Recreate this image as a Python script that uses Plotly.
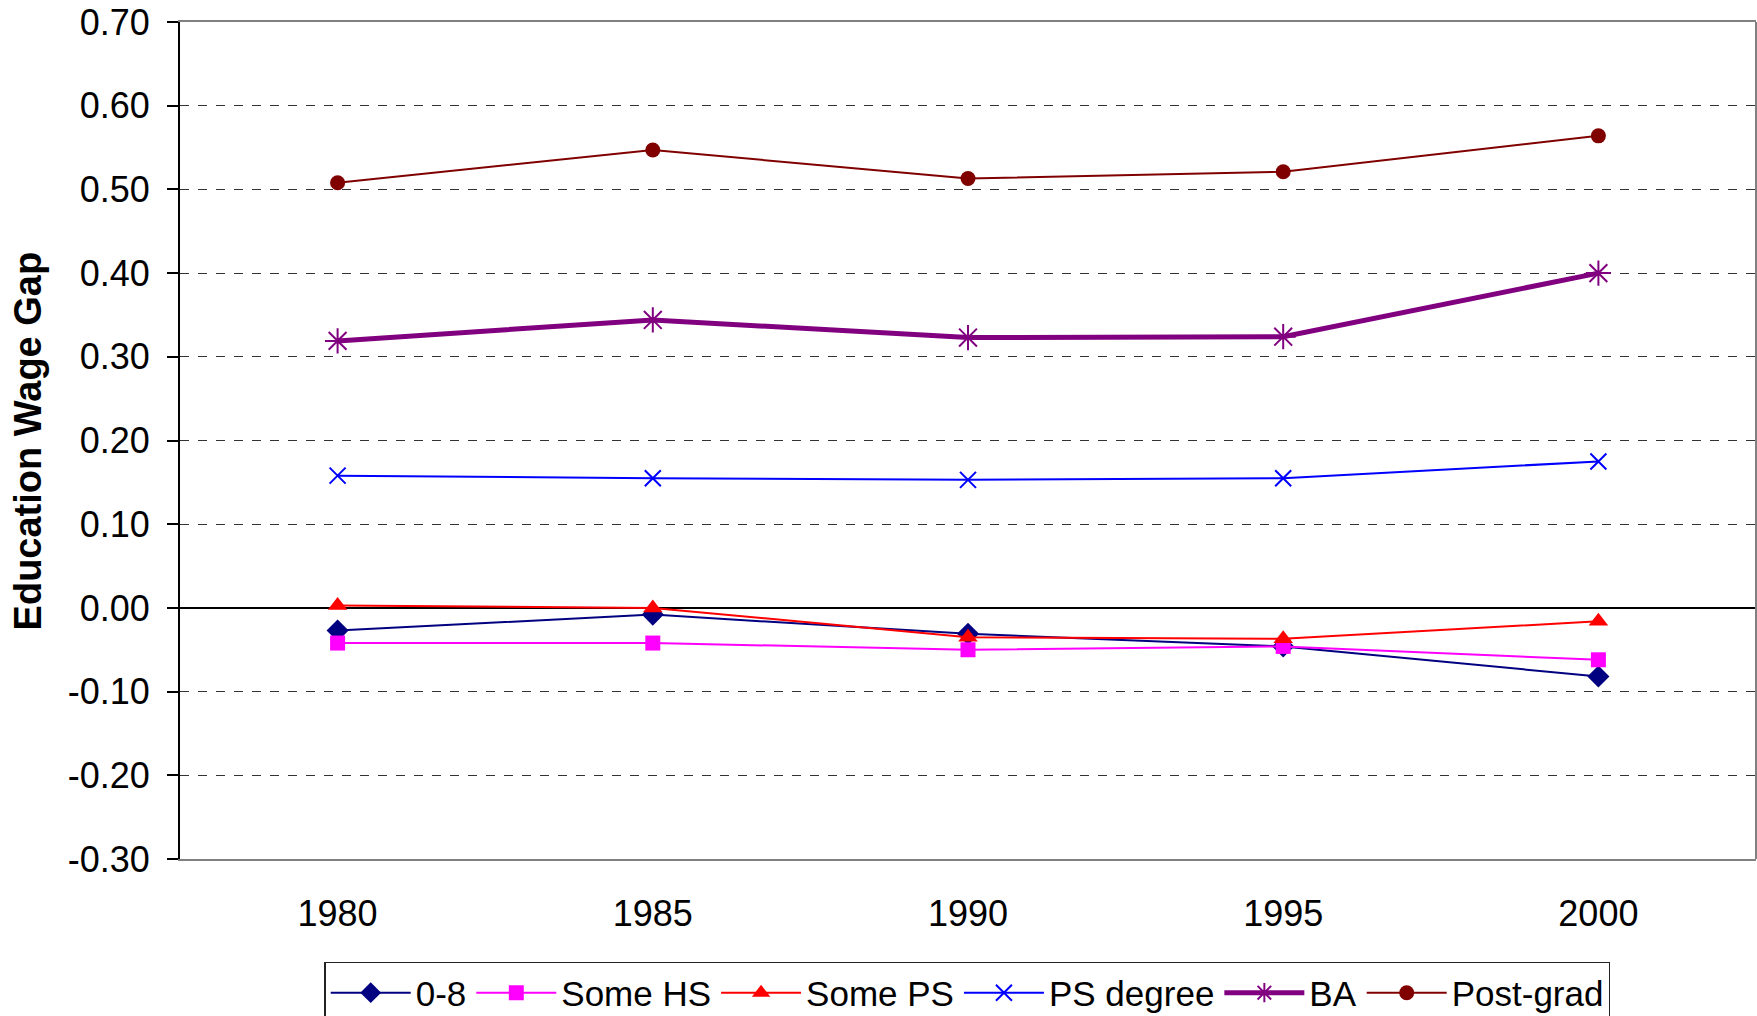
import plotly.graph_objects as go

years = ["1980", "1985", "1990", "1995", "2000"]

s_08 = [-0.027, -0.008, -0.031, -0.046, -0.082]
s_some_hs = [-0.042, -0.042, -0.050, -0.046, -0.062]
s_some_ps = [0.003, 0.000, -0.035, -0.037, -0.016]
s_ps_degree = [0.158, 0.155, 0.153, 0.155, 0.175]
s_ba = [0.319, 0.344, 0.323, 0.324, 0.400]
s_post_grad = [0.508, 0.547, 0.513, 0.521, 0.564]

y_ticks = [-0.3, -0.2, -0.1, 0.0, 0.1, 0.2, 0.3, 0.4, 0.5, 0.6, 0.7]
y_tick_text = ["-0.30", "-0.20", "-0.10", "0.00", "0.10", "0.20", "0.30",
               "0.40", "0.50", "0.60", "0.70"]

FONT = "Liberation Sans, Arial, sans-serif"

series = [
    ("0-8", s_08, "#000080", "diamond", 17, 2, None),
    ("Some HS", s_some_hs, "#FF00FF", "square", 15, 2, None),
    ("Some PS", s_some_ps, "#FF0000", "triangle-up", 17, 2, None),
    ("PS degree", s_ps_degree, "#0000FF", "x-thin-open", 16, 2, 2),
    ("BA", s_ba, "#800080", "asterisk-open", 21, 5, 2),
    ("Post-grad", s_post_grad, "#800000", "circle", 15, 2, None),
]

fig = go.Figure()
for name, vals, color, sym, msize, lw, mlw in series:
    marker = dict(symbol=sym, size=msize, color=color)
    if mlw is not None:
        marker["line"] = dict(color=color, width=mlw)
    fig.add_trace(go.Scatter(
        x=years, y=vals, name=name, mode="lines+markers",
        line=dict(color=color, width=lw), marker=marker,
    ))

fig.update_layout(
    width=1757, height=1016,
    margin=dict(l=180, r=1, t=22, b=157, autoexpand=False),
    paper_bgcolor="white", plot_bgcolor="white",
    font=dict(family=FONT, size=36, color="black"),
    showlegend=True,
    legend=dict(
        orientation="h", x=0.4995, xanchor="center", y=-0.123, yanchor="top",
        bordercolor="#222222", borderwidth=1.5, font=dict(size=35),
        itemwidth=80, traceorder="normal",
    ),
    annotations=[dict(
        text="<b>Education Wage Gap</b>", textangle=-90,
        xref="paper", yref="paper", x=-0.0965, y=0.5,
        xanchor="center", yanchor="middle", showarrow=False,
        font=dict(family=FONT, size=38, color="black"),
    )],
    shapes=[dict(type="line", xref="paper", yref="paper", x0=1, x1=1, y0=0, y1=1,
                 line=dict(color="#808080", width=2))],
)

fig.update_xaxes(
    type="category", range=[-0.5, 4.5], automargin=False,
    showline=True, linecolor="#808080", linewidth=2, mirror=True,
    ticks="", showgrid=False, ticklabelstandoff=22,
    tickfont=dict(size=36),
)
fig.update_yaxes(
    range=[-0.3, 0.7], tickvals=y_ticks, ticktext=y_tick_text, automargin=False,
    showline=True, linecolor="black", linewidth=2,
    ticks="outside", ticklen=11, tickcolor="black", tickwidth=1.5,
    showgrid=True, gridcolor="#333333", griddash="dash", gridwidth=1,
    zeroline=True, zerolinecolor="black", zerolinewidth=1.5,
    ticklabelstandoff=10, tickfont=dict(size=36),
)

fig.write_html(
    "out.html",
    config={"displayModeBar": False},
    post_script="document.body.style.margin='0';"
                "document.documentElement.style.overflow='hidden';"
                "document.body.style.overflow='hidden';",
)
